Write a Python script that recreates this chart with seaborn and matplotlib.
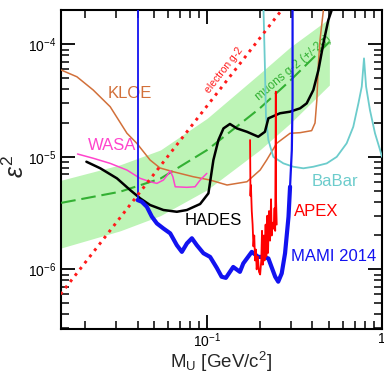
import numpy as np
import pandas as pd
import matplotlib
matplotlib.use('Agg')
import matplotlib.pyplot as plt
import seaborn as sns

# exclusion limits, mass in GeV/c^2, eps^2
kloe_m = [0.01465, 0.0180, 0.0223, 0.0279, 0.0348, 0.0396, 0.0472, 0.0538, 0.0639, 0.0832, 0.104,
          0.130, 0.169, 0.201, 0.219, 0.250, 0.298, 0.340, 0.396, 0.414, 0.424, 0.433, 0.442, 0.462]
kloe_e = [5.91e-5, 5.15e-5, 3.93e-5, 2.79e-5, 1.62e-5, 1.32e-5, 9.37e-6, 7.96e-6, 7.38e-6, 6.66e-6, 6.22e-6,
          5.62e-6, 6.01e-6, 7.64e-6, 9.37e-6, 1.32e-5, 1.62e-5, 1.64e-5, 1.71e-5, 2.0e-5, 3.2e-5, 6.8e-5, 1.09e-4, 2.0e-4]

wasa_m = [0.01815, 0.0224, 0.0279, 0.0348, 0.0414, 0.0472, 0.0516, 0.0562, 0.0593, 0.0615, 0.0637,
          0.0657, 0.0766, 0.0853, 0.0912, 0.0996]
wasa_e = [1.06e-5, 9.7e-6, 8.75e-6, 7.63e-6, 6.44e-6, 6.01e-6, 5.81e-6, 6.22e-6, 6.9e-6, 7.52e-6, 6.65e-6,
          5.42e-6, 5.36e-6, 5.42e-6, 6.22e-6, 7.13e-6]

hades_m = [0.0204, 0.0245, 0.0305, 0.0363, 0.0414, 0.0472, 0.0562, 0.0671, 0.0766, 0.0912, 0.1017,
           0.1086, 0.116, 0.124, 0.135, 0.148, 0.169, 0.196, 0.214, 0.224, 0.261, 0.298, 0.340, 0.371,
           0.405, 0.433, 0.462, 0.493, 0.516]
hades_e = [9.05e-6, 7.91e-6, 6.44e-6, 5.07e-6, 4.28e-6, 3.73e-6, 3.37e-6, 3.25e-6, 3.37e-6, 3.81e-6, 4.74e-6,
           9.37e-6, 1.41e-5, 1.79e-5, 1.96e-5, 1.79e-5, 1.67e-5, 1.51e-5, 1.67e-5, 2.2e-5, 2.44e-5, 2.52e-5,
           2.7e-5, 2.99e-5, 3.93e-5, 5.91e-5, 1.02e-4, 1.64e-4, 2.02e-4]

mami_m = [0.0400, 0.0400, 0.0423, 0.0452, 0.0483, 0.0516, 0.0562, 0.0615, 0.0671, 0.0717, 0.0766, 0.0818,
          0.0873, 0.0953, 0.104, 0.1136, 0.121, 0.128, 0.141, 0.154, 0.161, 0.180, 0.196, 0.210, 0.224,
          0.245, 0.255, 0.267, 0.279, 0.292, 0.298, 0.305, 0.308, 0.308]
mami_e = [2.1e-4, 4.13e-6, 3.99e-6, 3.6e-6, 2.94e-6, 2.56e-6, 2.31e-6, 2.09e-6, 1.64e-6, 1.43e-6, 1.70e-6, 1.89e-6,
          1.64e-6, 1.39e-6, 1.29e-6, 1.03e-6, 8.6e-7, 8.4e-7, 1.05e-6, 9.5e-7, 1.13e-6, 1.43e-6, 1.29e-6, 1.29e-6,
          1.25e-6, 8.6e-7, 7.77e-7, 9.2e-7, 1.39e-6, 2.94e-6, 5.43e-6, 1.15e-5, 3.2e-5, 2.1e-4]

apex_m = [0.176, 0.177, 0.178, 0.180, 0.182, 0.184, 0.186, 0.188, 0.190, 0.192, 0.195, 0.198, 0.201, 0.204,
          0.206, 0.208, 0.211, 0.213, 0.216, 0.218, 0.221, 0.223, 0.226, 0.229, 0.232, 0.234, 0.237, 0.240,
          0.243, 0.245, 0.247, 0.248, 0.250]
apex_e = [1.41e-5, 4.5e-6, 5.6e-6, 3.3e-6, 2.5e-6, 1.6e-6, 2.0e-6, 1.2e-6, 1.5e-6, 1.0e-6, 1.3e-6, 9.5e-7, 9.0e-7,
          1.2e-6, 2.2e-6, 1.1e-6, 2.0e-6, 1.2e-6, 2.5e-6, 1.3e-6, 3.0e-6, 1.4e-6, 3.3e-6, 1.8e-6, 4.2e-6, 2.0e-6,
          2.6e-6, 2.3e-6, 3.5e-6, 2.2e-6, 3.8e-5, 4.0e-6, 2.5e-6]

babar_m = [0.210, 0.214, 0.217, 0.224, 0.239, 0.273, 0.311, 0.355, 0.405, 0.483, 0.551, 0.628, 0.685,
           0.733, 0.766, 0.789, 0.811, 0.853, 0.912, 0.975, 1.0]
babar_e = [2.1e-4, 6.33e-5, 2.28e-5, 1.41e-5, 1.0e-5, 8.75e-6, 8.17e-6, 7.91e-6, 8.17e-6, 8.75e-6, 1.0e-5,
           1.32e-5, 1.85e-5, 2.99e-5, 4.21e-5, 7.51e-5, 4.21e-5, 2.61e-5, 1.62e-5, 1.15e-5, 1.0e-5]

# electron g-2 line
eg2_m = [0.0145, 0.30]
eg2_e = [6.0e-7, 2.55e-4]

# muon g-2 band (+/-2 sigma)
mu_m = [0.01465, 0.0318, 0.054, 0.1, 0.2, 0.3, 0.5]
mu_c = [3.9e-6, 4.9e-6, 6.4e-6, 1.15e-5, 2.7e-5, 4.8e-5, 1.05e-4]
mu_hi = [6.2e-6, 8.5e-6, 1.15e-5, 2.2e-5, 5.5e-5, 9.5e-5, 1.7e-4]
mu_lo = [1.55e-6, 2.2e-6, 3.0e-6, 5.1e-6, 1.15e-5, 2.0e-5, 4.35e-5]

sns.set_theme(style='ticks')
plt.rcParams['font.family'] = ['Liberation Sans', 'DejaVu Sans']
plt.rcParams['mathtext.fontset'] = 'custom'
plt.rcParams['mathtext.rm'] = 'Liberation Sans'
plt.rcParams['mathtext.it'] = 'Liberation Sans:italic'
plt.rcParams['mathtext.fallback'] = 'stixsans'

fig = plt.figure(figsize=(3.84, 3.74), dpi=100)
ax = fig.add_axes([61/384, 1-329/374, 321/384, 319/374])
ax.set_xscale('log')
ax.set_yscale('log')

# band (interpolate in log space for a smooth edge)
lm = np.linspace(np.log10(mu_m[0]), np.log10(mu_m[-1]), 200)
lx = np.log10(mu_m)
band_hi = 10**np.interp(lm, lx, np.log10(mu_hi))
band_lo = 10**np.interp(lm, lx, np.log10(mu_lo))
ax.fill_between(10**lm, band_lo, band_hi, color='#bdf4b6', lw=0, zorder=1)
sns.lineplot(x=mu_m, y=mu_c, ax=ax, color='#33b033', lw=1.5, zorder=3)
ax.lines[-1].set_linestyle((0, (7, 2.8)))

sns.lineplot(x=eg2_m, y=eg2_e, ax=ax, color='#ff1a1a', lw=2.1, zorder=6)
ax.lines[-1].set_linestyle((0, (1, 1.7)))

sns.lineplot(x=kloe_m, y=kloe_e, ax=ax, sort=False, estimator=None, color='#d2703a', lw=1.1, zorder=4)
sns.lineplot(x=babar_m, y=babar_e, ax=ax, sort=False, estimator=None, color='#6ccccc', lw=1.3, zorder=4)
sns.lineplot(x=wasa_m, y=wasa_e, ax=ax, sort=False, estimator=None, color='#ff44cc', lw=1.1, zorder=4)
sns.lineplot(x=hades_m, y=hades_e, ax=ax, sort=False, estimator=None, color='black', lw=1.8, zorder=5)
sns.lineplot(x=mami_m[1:-3], y=mami_e[1:-3], ax=ax, sort=False, estimator=None, color='#1212f0', lw=3.0, zorder=5)
sns.lineplot(x=mami_m[:2], y=mami_e[:2], ax=ax, sort=False, estimator=None, color='#1212f0', lw=1.3, zorder=5)
sns.lineplot(x=mami_m[-4:], y=mami_e[-4:], ax=ax, sort=False, estimator=None, color='#1212f0', lw=1.6, zorder=5)
sns.lineplot(x=apex_m, y=apex_e, ax=ax, sort=False, estimator=None, color='#ff0000', lw=1.3, zorder=6)

ax.set_xlim(0.0146, 1.0)
ax.set_ylim(2.95e-7, 2.02e-4)

fs = 12
ax.text(0.036, 3.62e-5, 'KLOE', color='#d2703a', fontsize=fs, ha='center', va='center')
ax.text(0.0285, 1.25e-5, 'WASA', color='#ff44cc', fontsize=fs, ha='center', va='center')
ax.text(0.108, 2.73e-6, 'HADES', color='black', fontsize=fs, ha='center', va='center')
ax.text(0.42, 3.3e-6, 'APEX', color='#ff0000', fontsize=fs, ha='center', va='center')
ax.text(0.532, 1.29e-6, 'MAMI 2014', color='#1212f0', fontsize=fs, ha='center', va='center')
ax.text(0.537, 6.1e-6, 'BaBar', color='#6ccccc', fontsize=fs, ha='center', va='center')
ax.text(0.125, 5.9e-5, 'electron g-2', color='#ff1a1a', fontsize=7.5, rotation=52,
        ha='center', va='center', rotation_mode='anchor')
ax.text(0.31, 6.2e-5, 'muons g-2 (+/-2\u03c3)', color='#33b033', fontsize=8.5, rotation=40,
        ha='center', va='center', rotation_mode='anchor')

def fmt(v, pos):
    if abs(v - 1) < 1e-9:
        return '1'
    return r'10$^{%d}$' % round(np.log10(v))

ax.xaxis.set_major_formatter(matplotlib.ticker.FuncFormatter(fmt))
ax.yaxis.set_major_formatter(matplotlib.ticker.FuncFormatter(fmt))

ax.set_xlabel(r'M$_\mathrm{U}$ [GeV/c$^2$]', fontsize=13.5)
ax.set_ylabel(r'$\epsilon^2$', fontsize=18)
ax.xaxis.set_label_coords(0.50, -0.064)
ax.yaxis.set_label_coords(-0.10, 0.51)

for s in ax.spines.values():
    s.set_linewidth(1.5)
    s.set_color('black')
ax.tick_params(which='both', direction='in', top=True, right=True, colors='black', labelsize=10)
ax.tick_params(which='major', length=10, width=1.3)
ax.tick_params(which='minor', length=6, width=1.1)
ax.tick_params(axis='x', which='major', pad=2)
ax.yaxis.set_minor_formatter(matplotlib.ticker.NullFormatter())
ax.xaxis.set_minor_formatter(matplotlib.ticker.NullFormatter())

fig.savefig('out.png', dpi=100)
